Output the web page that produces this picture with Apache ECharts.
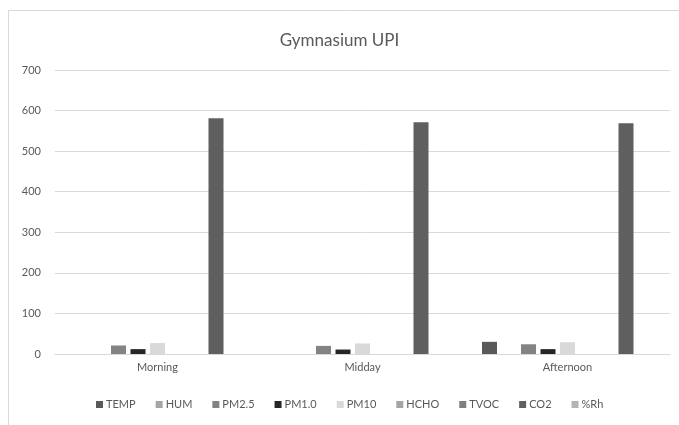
<!DOCTYPE html>
<html>
<head>
<meta charset="utf-8">
<script src="https://cdn.jsdelivr.net/npm/echarts@6/dist/echarts.min.js"></script>
<style>
  html, body { margin: 0; padding: 0; background: #fff; }
  #chart { width: 679px; height: 425px; }
</style>
</head>
<body>
<div id="chart"></div>
<script>
// Valeurs
const categories = ["Morning", "Midday", "Afternoon"];
const seriesNames = ["TEMP", "HUM", "PM2.5", "PM1.0", "PM10", "HCHO", "TVOC", "CO2", "%Rh"];
const temp = [0, 0, 30];
const hum = [0, 0, 0];
const pm25 = [21, 20, 24];
const pm10b = [12, 11, 12];
const pm10 = [27, 26, 29];
const hcho = [0, 0, 0];
const tvoc = [0, 0, 0];
const co2 = [581, 571, 569];
const rh = [0, 0, 0];
const yTicks = [0, 100, 200, 300, 400, 500, 600, 700];

const values = [temp, hum, pm25, pm10b, pm10, hcho, tvoc, co2, rh];
const colors = ["#595959", "#a5a5a5", "#838383", "#262626", "#d9d9d9", "#a5a5a5", "#7f7f7f", "#5f5f5f", "#b4b4b4"];

const font = "Lato, 'Open Sans', sans-serif";
const chart = echarts.init(document.getElementById("chart"));

chart.setOption({
  animation: false,
  backgroundColor: "#ffffff",
  title: {
    text: "Gymnasium UPI",
    left: "center",
    top: 27,
    textStyle: { fontFamily: font, fontSize: 17, fontWeight: "normal", color: "#595959" }
  },
  graphic: [{
    type: "rect",
    shape: { x: 8.5, y: 10.5, width: 700, height: 500 },
    style: { fill: "none", stroke: "#d9d9d9", lineWidth: 1 },
    silent: true
  }],
  legend: {
    bottom: 10,
    left: 91,
    itemWidth: 7,
    itemHeight: 7,
    itemGap: 20,
    icon: "rect",
    textStyle: { fontFamily: font, fontSize: 11, color: "#595959", padding: [0, 0, 0, -2] },
    data: seriesNames
  },
  grid: { left: 55, right: 9, top: 70, bottom: 71 },
  xAxis: {
    type: "category",
    data: categories,
    axisLine: { lineStyle: { color: "#d9d9d9" } },
    axisTick: { show: false },
    axisLabel: { fontFamily: font, fontSize: 11, color: "#595959", margin: 8 }
  },
  yAxis: {
    type: "value",
    min: yTicks[0],
    max: yTicks[yTicks.length - 1],
    interval: 100,
    axisLine: { show: false },
    axisTick: { show: false },
    axisLabel: { fontFamily: font, fontSize: 11, color: "#595959", margin: 14 },
    splitLine: { lineStyle: { color: "#d9d9d9" } }
  },
  series: seriesNames.map((name, i) => ({
    name,
    type: "bar",
    data: values[i],
    barWidth: 15,
    barGap: "30%",
    itemStyle: { color: colors[i] }
  }))
});
</script>
</body>
</html>
